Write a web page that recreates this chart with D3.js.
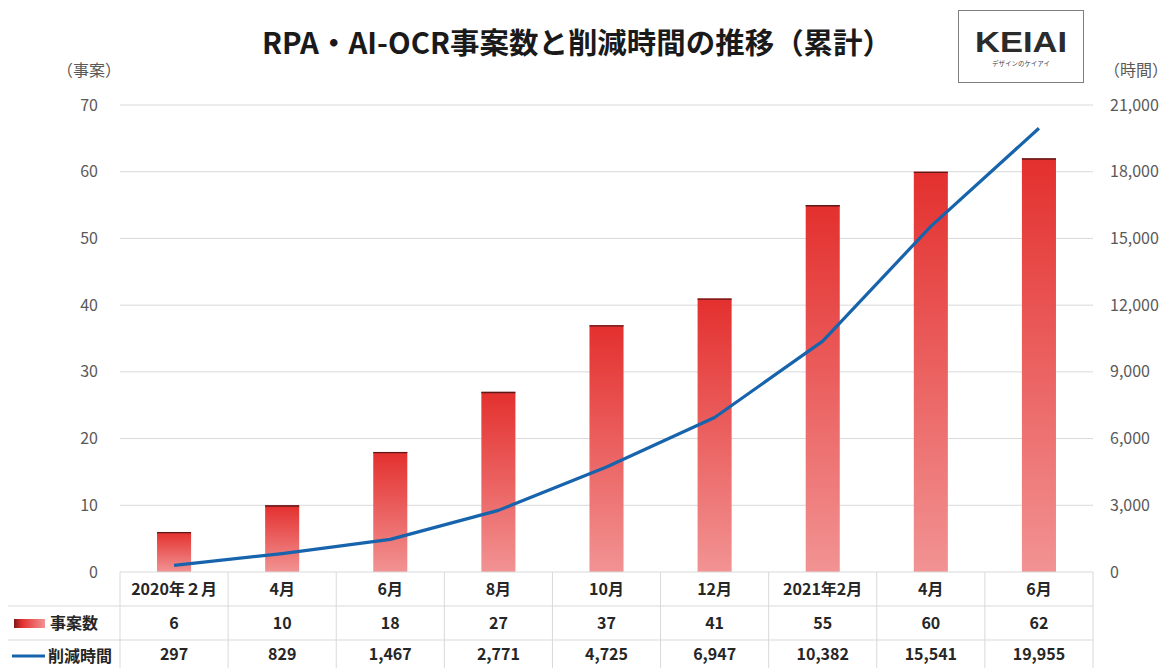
<!DOCTYPE html>
<html>
<head>
<meta charset="utf-8">
<script src="https://cdn.jsdelivr.net/npm/d3@7"></script>
<style>
  body { margin: 0; background: #fff; }
  text { font-family: "Noto Sans CJK JP", "Noto Sans", sans-serif; }
</style>
</head>
<body>
<script>
// data
var categories = ["2020年２月", "4月", "6月", "8月", "10月", "12月", "2021年2月", "4月 ", "6月 "];
var cases = [6, 10, 18, 27, 37, 41, 55, 60, 62];
var hours = [297, 829, 1467, 2771, 4725, 6947, 10382, 15541, 19955];
var leftTicks = [0, 10, 20, 30, 40, 50, 60, 70];
var rightTicks = [0, 3000, 6000, 9000, 12000, 15000, 18000, 21000];

var width = 1168, height = 668;
var plot = {left: 120, right: 1093, top: 105, bottom: 572};
var rowH = 34;

var svg = d3.select("body").append("svg")
  .attr("width", width)
  .attr("height", height);

var defs = svg.append("defs");
var grad = defs.append("linearGradient")
  .attr("id", "barGrad")
  .attr("x1", 0).attr("y1", 0).attr("x2", 0).attr("y2", 1);
grad.append("stop").attr("offset", "0%").attr("stop-color", "#e3302e");
grad.append("stop").attr("offset", "100%").attr("stop-color", "#f29393");

var legGrad = defs.append("linearGradient")
  .attr("id", "legGrad")
  .attr("x1", 0).attr("y1", 0).attr("x2", 1).attr("y2", 0);
legGrad.append("stop").attr("offset", "0%").attr("stop-color", "#7a1a1a");
legGrad.append("stop").attr("offset", "25%").attr("stop-color", "#e3302e");
legGrad.append("stop").attr("offset", "100%").attr("stop-color", "#f29393");

var x = d3.scaleBand()
  .domain(categories)
  .range([plot.left, plot.right])
  .padding(0);

var yLeft = d3.scaleLinear()
  .domain([0, 70])
  .range([plot.bottom, plot.top]);

var yRight = d3.scaleLinear()
  .domain([0, 21000])
  .range([plot.bottom, plot.top]);

// gridlines
svg.append("g")
  .selectAll("line")
  .data(leftTicks.slice(1))
  .enter().append("line")
  .attr("x1", plot.left).attr("x2", plot.right)
  .attr("y1", function(d) { return yLeft(d) })
  .attr("y2", function(d) { return yLeft(d) })
  .attr("stroke", "#d9d9d9")
  .attr("stroke-width", 1);

// left axis
var leftAxis = svg.append("g")
  .attr("transform", "translate(" + (plot.left - 22) + ",0)")
  .call(d3.axisLeft(yLeft).tickValues(leftTicks).tickSize(0).tickPadding(0));
leftAxis.select(".domain").remove();
leftAxis.selectAll("text")
  .attr("font-size", 16)
  .attr("fill", "#595959")
  .style("font-family", "'Noto Sans CJK JP', sans-serif");

// right axis
var rightAxis = svg.append("g")
  .attr("transform", "translate(" + (plot.right + 17) + ",0)")
  .call(d3.axisRight(yRight).tickValues(rightTicks).tickSize(0).tickPadding(0)
    .tickFormat(d3.format(",")));
rightAxis.select(".domain").remove();
rightAxis.selectAll("text")
  .attr("font-size", 16)
  .attr("fill", "#595959")
  .style("font-family", "'Noto Sans CJK JP', sans-serif");

// unit labels
svg.append("text")
  .attr("x", 89).attr("y", 76)
  .attr("text-anchor", "middle")
  .attr("font-size", 16).attr("fill", "#595959")
  .text("（事案）");
svg.append("text")
  .attr("x", 1136).attr("y", 76)
  .attr("text-anchor", "middle")
  .attr("font-size", 16).attr("fill", "#595959")
  .text("（時間）");

// bars
var barW = x.bandwidth() * 0.315;
var bars = svg.append("g");
bars.selectAll("rect")
  .data(cases)
  .enter().append("rect")
  .attr("x", function(d, i) { return x(categories[i]) + (x.bandwidth() - barW) / 2 })
  .attr("y", function(d) { return yLeft(d) })
  .attr("width", barW)
  .attr("height", function(d) { return plot.bottom - yLeft(d) })
  .attr("fill", "url(#barGrad)");
bars.selectAll("line")
  .data(cases)
  .enter().append("line")
  .attr("x1", function(d, i) { return x(categories[i]) + (x.bandwidth() - barW) / 2 })
  .attr("x2", function(d, i) { return x(categories[i]) + (x.bandwidth() + barW) / 2 })
  .attr("y1", function(d) { return yLeft(d) + 0.7 })
  .attr("y2", function(d) { return yLeft(d) + 0.7 })
  .attr("stroke", "#5e1818")
  .attr("stroke-width", 1.4);

// line
var line = d3.line()
  .x(function(d, i) { return x(categories[i]) + x.bandwidth() / 2 })
  .y(function(d) { return yRight(d) });
svg.append("path")
  .datum(hours)
  .attr("d", line)
  .attr("fill", "none")
  .attr("stroke", "#1764ad")
  .attr("stroke-width", 3.2)
  .attr("stroke-linejoin", "round");

// data table
var table = svg.append("g");
var rowsY = [plot.bottom, plot.bottom + rowH, plot.bottom + rowH * 2, height];
table.append("line")
  .attr("x1", plot.left).attr("x2", plot.right)
  .attr("y1", rowsY[0]).attr("y2", rowsY[0])
  .attr("stroke", "#d9d9d9");
[rowsY[1], rowsY[2]].forEach(function(yy) {
  table.append("line")
    .attr("x1", 8).attr("x2", plot.right)
    .attr("y1", yy).attr("y2", yy)
    .attr("stroke", "#d9d9d9");
});
var colEdges = categories.map(function(c) { return x(c) }).concat([plot.right]);
table.selectAll("line.col")
  .data(colEdges)
  .enter().append("line")
  .attr("class", "col")
  .attr("x1", function(d) { return d }).attr("x2", function(d) { return d })
  .attr("y1", rowsY[0]).attr("y2", height)
  .attr("stroke", "#d9d9d9");

function cellText(vals, rowIndex, fmt) {
  table.selectAll("text.r" + rowIndex)
    .data(vals)
    .enter().append("text")
    .attr("class", "r" + rowIndex)
    .attr("x", function(d, i) { return x(categories[i]) + x.bandwidth() / 2 })
    .attr("y", (rowsY[rowIndex] + rowsY[rowIndex + 1]) / 2 + 6)
    .attr("text-anchor", "middle")
    .attr("font-size", 16)
    .attr("font-weight", "bold")
    .attr("fill", "#262626")
    .text(fmt);
}
cellText(categories, 0, function(d) { return d.trim() });
cellText(cases, 1, function(d) { return d });
cellText(hours, 2, d3.format(","));

// legend keys in the table
table.append("rect")
  .attr("x", 14).attr("y", rowsY[1] + 13)
  .attr("width", 31).attr("height", 9)
  .attr("fill", "url(#legGrad)");
table.append("text")
  .attr("x", 50).attr("y", rowsY[1] + 23)
  .attr("font-size", 16).attr("font-weight", "bold").attr("fill", "#262626")
  .text("事案数");
table.append("line")
  .attr("x1", 12).attr("x2", 45)
  .attr("y1", rowsY[2] + 16).attr("y2", rowsY[2] + 16)
  .attr("stroke", "#1764ad").attr("stroke-width", 3.2);
table.append("text")
  .attr("x", 48).attr("y", rowsY[2] + 22)
  .attr("font-size", 16).attr("font-weight", "bold").attr("fill", "#262626")
  .text("削減時間");

// title
svg.append("text")
  .attr("x", 577).attr("y", 54)
  .attr("text-anchor", "middle")
  .attr("font-size", 29)
  .attr("font-weight", "bold")
  .attr("fill", "#1a1a1a")
  .attr("textLength", 630)
  .attr("lengthAdjust", "spacingAndGlyphs")
  .text("RPA・AI-OCR事案数と削減時間の推移（累計）");

// logo box
var logo = svg.append("g");
logo.append("rect")
  .attr("x", 958.5).attr("y", 10.5)
  .attr("width", 125).attr("height", 72)
  .attr("fill", "#fff")
  .attr("stroke", "#7f7f7f");
logo.append("text")
  .attr("x", 1021).attr("y", 52)
  .attr("text-anchor", "middle")
  .attr("font-size", 30).attr("font-weight", "bold")
  .attr("fill", "#2b2b2b")
  .attr("textLength", 92)
  .attr("lengthAdjust", "spacingAndGlyphs")
  .style("font-family", "'Liberation Sans', Arial, sans-serif")
  .text("KEIAI");
logo.append("text")
  .attr("x", 1021).attr("y", 66)
  .attr("text-anchor", "middle")
  .attr("font-size", 6.5)
  .attr("fill", "#444")
  .text("デザインのケイアイ");
</script>
</body>
</html>
